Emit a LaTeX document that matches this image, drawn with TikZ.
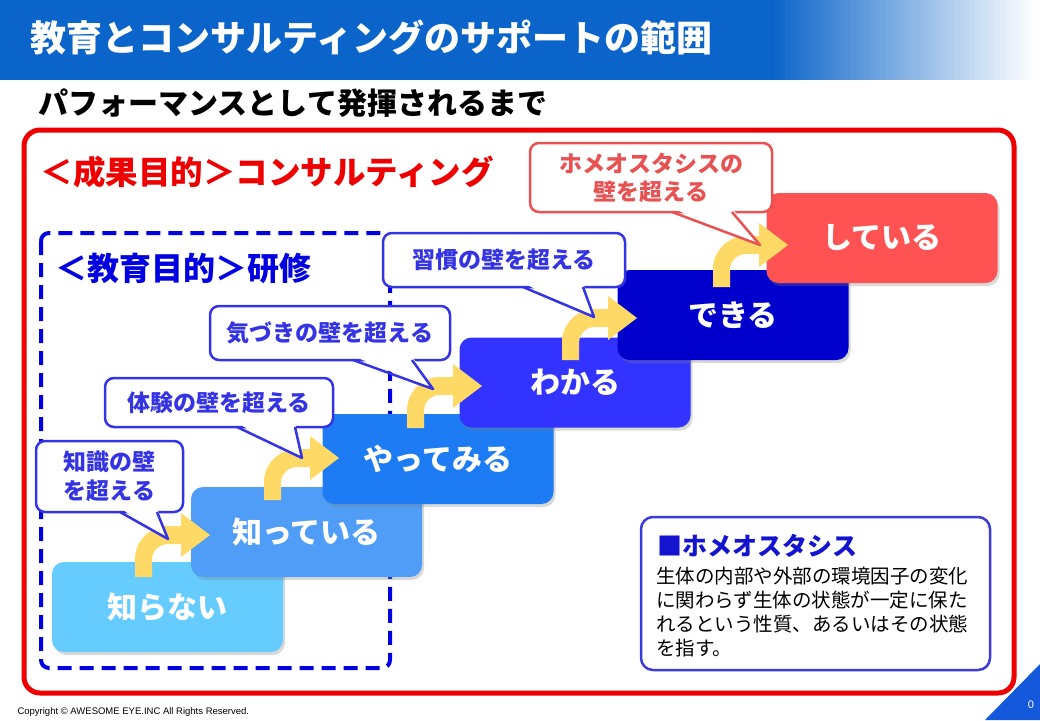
\documentclass[tikz,border=0pt]{standalone}
\usepackage{fontspec}
\setmainfont{Noto Sans CJK JP}
\newfontfamily\copyfont{Liberation Sans}
\usetikzlibrary{shadows}

\definecolor{titleblue}{HTML}{0B64C9}
\definecolor{framered}{HTML}{EE0000}
\definecolor{dashblue}{HTML}{0000E0}
\definecolor{callblue}{HTML}{3434E4}
\definecolor{callred}{HTML}{E85252}
\definecolor{arrowyellow}{HTML}{FFD966}
\definecolor{stepA}{HTML}{66CCFF}
\definecolor{stepB}{HTML}{4F9DF6}
\definecolor{stepC}{HTML}{1D7CF4}
\definecolor{stepD}{HTML}{3333FF}
\definecolor{stepE}{HTML}{0000CC}
\definecolor{stepF}{HTML}{FF5252}
\definecolor{infoblue}{HTML}{3C3CD8}
\definecolor{infohead}{HTML}{1414D0}
\definecolor{cornerblue}{HTML}{1458DC}

% bent yellow arrow, #1 = foot of the stem
\newcommand{\upArrow}[1]{%
  \fill[arrowyellow,shift={(#1)}] (0,0) -- (0,-18) .. controls (0,-36) and (15,-51) .. (33,-51)
    -- (46,-51) -- (46,-64) -- (75,-42) -- (46,-20) -- (46,-33) -- (33,-33)
    .. controls (24,-33) and (17,-26) .. (17,-17) -- (17,0) -- cycle;}
% pointer of a callout: colour, bottom y, left x, right x, tip
\newcommand{\callPtr}[5]{%
  \fill[white] (#3,#2-4) -- (#5) -- (#4,#2-4) -- cycle;
  \draw[#1,line width=2.5pt,line join=round] (#3,#2) -- (#5) -- (#4,#2);}

\begin{document}
\begin{tikzpicture}[x=1pt,y=-1pt,
			stepbox/.style={rectangle,rounded corners=12pt,minimum width=231pt,minimum height=90pt,
				text=white,font=\bfseries\fontsize{30}{30}\selectfont,
				drop shadow={shadow xshift=2pt,shadow yshift=-3pt,opacity=.3}},
			callout/.style={rectangle,rounded corners=9pt,draw=callblue,line width=2.5pt,fill=white,
				text=callblue,align=center,inner sep=0pt,font=\bfseries\fontsize{23}{29}\selectfont}]
			
			\useasboundingbox (0,0) rectangle (1040,720);
			
			% title bar
			\fill[titleblue] (0,0) rectangle (772,80);
			\foreach \i in {0,...,53} {
				\pgfmathsetmacro{\mix}{max(0,100-1.9*\i)}
				\fill[titleblue!\mix!white] (770+5*\i,0) rectangle (776+5*\i,80);
			}
			\node[anchor=west,text=white,font=\bfseries\fontsize{36}{36}\selectfont] (Title) at (27,37) {教育とコンサルティングのサポートの範囲};
			\node[anchor=west,font=\bfseries\fontsize{30}{30}\selectfont] (Sub) at (35,103) {パフォーマンスとして発揮されるまで};
			
			% frames
			\draw[framered,line width=5pt,rounded corners=16pt] (24,130) rectangle (1014,693);
			\node[anchor=west,text=framered,font=\bfseries\fontsize{32.5}{32.5}\selectfont] (Consult) at (37,172) {＜成果目的＞コンサルティング};
			\draw[dashblue,line width=4pt,dash pattern=on 14pt off 8pt,rounded corners=8pt] (41,233) rectangle (390,668);
			\node[anchor=west,text=dashblue,font=\bfseries\fontsize{32}{32}\selectfont] (Train) at (52,268) {＜教育目的＞研修};
			
			% steps
			\node[stepbox,fill=stepA] (S1) at (167.5,607) {知らない};
			\node[stepbox,fill=stepB] (S2) at (306.5,532) {知っている};
			\node[stepbox,fill=stepC] (S3) at (438,459) {やってみる};
			\node[stepbox,fill=stepD] (S4) at (575,382.5) {わかる};
			\node[stepbox,fill=stepE] (S5) at (733,315) {できる};
			\node[stepbox,fill=stepF] (S6) at (882,238) {している};
			
			\upArrow{135,577}
			\upArrow{264,500}
			\upArrow{407,428}
			\upArrow{562,360}
			\upArrow{713,287}
			
			% callouts
			\node[callout,minimum width=147pt,minimum height=71pt] (C1) at (109.5,476.5) {知識の壁\\を超える};
			\callPtr{callblue}{512}{120}{157}{168,539}
			\node[callout,minimum width=228pt,minimum height=49pt] (C2) at (219,402.5) {体験の壁を超える};
			\callPtr{callblue}{427}{237}{295}{302,458}
			\node[callout,minimum width=240pt,minimum height=54pt] (C3) at (330,333) {気づきの壁を超える};
			\callPtr{callblue}{360}{353}{412}{433,389}
			\node[callout,minimum width=242pt,minimum height=54pt] (C4) at (504,260) {習慣の壁を超える};
			\callPtr{callblue}{287}{523}{583}{594,317}
			\node[callout,draw=callred,text=callred,minimum width=242pt,minimum height=69pt,
				font=\bfseries\fontsize{23}{28}\selectfont] (C5) at (651,177.5) {ホメオスタシスの\\壁を超える};
			\callPtr{callred}{212}{672}{732}{760,245}
			
			% note
			\node[draw=infoblue,line width=2.5pt,rounded corners=12pt,minimum width=349pt,minimum height=153pt,fill=white] (Info) at (815.5,593.5) {};
			\node[anchor=west,text=infohead,font=\bfseries\fontsize{25}{25}\selectfont] (InfoHead) at (654,546) {■ホメオスタシス};
			\node[anchor=north west,align=left,inner sep=0pt,font=\fontsize{19.5}{24}\selectfont] (InfoText) at (656,567) {生体の内部や外部の環境因子の変化\\に関わらず生体の状態が一定に保た\\れるという性質、あるいはその状態\\を指す。};
			
			% footer
			\node[anchor=west,font=\copyfont\fontsize{9.5}{9.5}\selectfont] (Copy) at (14,712) {Copyright © AWESOME EYE.INC All Rights Reserved.};
			\fill[cornerblue] (985,720) -- (1040,664) -- (1040,720) -- cycle;
			\node[text=white,font=\copyfont\fontsize{11}{11}\selectfont] (Page) at (1031,705) {0};
			\end{tikzpicture}
\end{document}
